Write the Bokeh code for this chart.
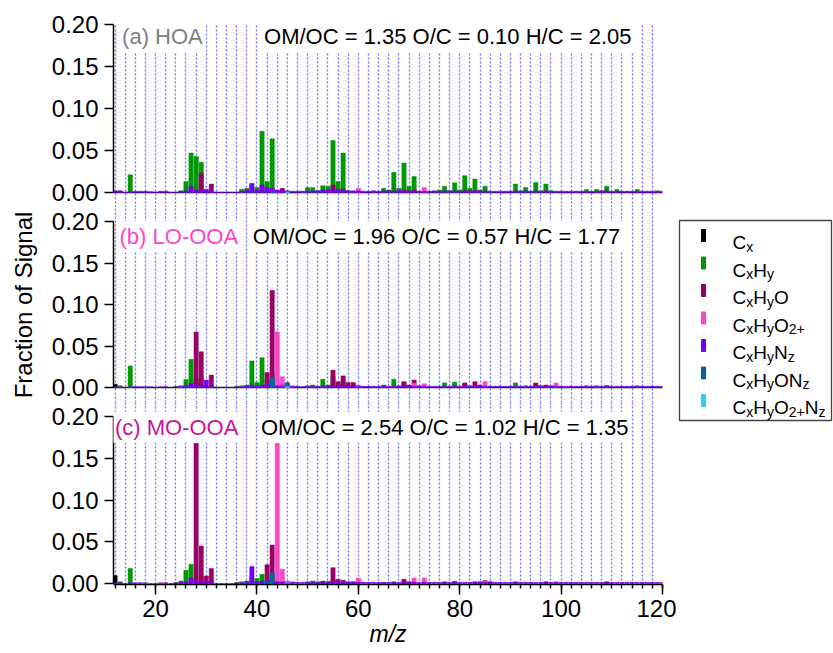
from bokeh.plotting import figure
from bokeh.models import Range1d, FixedTicker, Label, Span, Grid, PrintfTickFormatter
from bokeh.layouts import column, row
from bokeh.embed import file_html
from bokeh.resources import INLINE
from bokeh.core.properties import value

FONT = "Liberation Sans"

FAMILIES = ["Cx", "CxHy", "CxHyO", "CxHyO2+", "CxHyNz", "CxHyONz", "CxHyO2+Nz"]
COLORS = ["#000000", "#009900", "#990066", "#ff44cc", "#7700ee", "#006699", "#33ccff"]

MZ_ALL = list(range(12, 121))
GRID_TICKS = list(range(12, 121, 2))
X_MAJOR = [20, 40, 60, 80, 100, 120]
Y_TICKS = [0.0, 0.05, 0.10, 0.15, 0.20]

# ---------------- (a) HOA ----------------
HOA_Cx_mz = [12]
HOA_Cx = [0.001]
HOA_CxHy_mz = [13, 15, 25, 26, 27, 28, 29, 37, 38, 39, 40, 41, 42, 43, 44, 45,
               49, 50, 51, 52, 53, 54, 55, 56, 57, 58, 59, 63, 65, 66, 67, 68, 69, 70, 71, 72,
               74, 75, 76, 77, 78, 79, 80, 81, 82, 83, 84, 85, 86, 91, 92, 93, 94, 95, 96, 97, 98, 99,
               103, 105, 107, 109, 111, 113, 115, 119]
HOA_CxHy = [0.0015, 0.021, 0.002, 0.013, 0.047, 0.043, 0.036, 0.004, 0.005, 0.011, 0.006, 0.073, 0.013, 0.064, 0.002, 0.001,
            0.001, 0.006, 0.006, 0.002, 0.008, 0.0075, 0.062, 0.013, 0.047, 0.002, 0.001, 0.001, 0.005, 0.003, 0.024, 0.005, 0.035, 0.0075, 0.019, 0.001,
            0.001, 0.001, 0.003, 0.0075, 0.002, 0.0115, 0.003, 0.020, 0.005, 0.016, 0.003, 0.0075, 0.001, 0.010, 0.002, 0.006, 0.001, 0.012, 0.002, 0.010, 0.002, 0.001,
            0.001, 0.0035, 0.0035, 0.0075, 0.0035, 0.001, 0.0035, 0.002]
HOA_CxHyO_mz = [29, 31, 42, 43, 45, 55, 57, 69, 71, 81, 83, 97, 108]
HOA_CxHyO = [0.023, 0.010, 0.002, 0.003, 0.005, 0.009, 0.004, 0.003, 0.003, 0.002, 0.002, 0.002, 0.002]
HOA_CxHyO2_mz = [44, 60, 73]
HOA_CxHyO2 = [0.002, 0.005, 0.006]
HOA_CxHyNz = [0.002, 0.002, 0.000, 0.001, 0.0015, 0.0015, 0.0015, 0.001, 0.000, 0.0015,
              0.0015, 0.000, 0.000, 0.0015, 0.002, 0.007, 0.003, 0.002, 0.004, 0.002,
              0.000, 0.000, 0.000, 0.000, 0.000, 0.0015, 0.003, 0.010, 0.003, 0.009,
              0.006, 0.005, 0.003, 0.002, 0.002, 0.0015, 0.0015, 0.0015, 0.002, 0.002,
              0.002, 0.003, 0.003, 0.004, 0.004, 0.003, 0.002, 0.002, 0.002, 0.0015,
              0.0015, 0.002, 0.0015, 0.002, 0.002, 0.002, 0.0025, 0.002, 0.002, 0.002,
              0.0015, 0.0015, 0.0015, 0.002, 0.0015, 0.002, 0.002, 0.002, 0.0015, 0.002,
              0.002, 0.002, 0.002, 0.002, 0.0015, 0.0015, 0.0015, 0.0015, 0.0015, 0.002,
              0.0015, 0.002, 0.0015, 0.002, 0.0015, 0.002, 0.0015, 0.0015, 0.0015, 0.0015,
              0.0015, 0.0015, 0.0015, 0.0015, 0.0015, 0.0015, 0.0015, 0.002, 0.0015, 0.0015,
              0.0015, 0.0015, 0.0015, 0.0015, 0.0015, 0.0015, 0.0015, 0.0015, 0.0015]
HOA_CxHyONz_mz = [43]
HOA_CxHyONz = [0.001]
HOA_CxHyO2Nz_mz = [46]
HOA_CxHyO2Nz = [0.0005]

# ---------------- (b) LO-OOA ----------------
LO_Cx_mz = [12, 24, 36]
LO_Cx = [0.004, 0.001, 0.001]
LO_CxHy_mz = [13, 15, 25, 26, 27, 28, 29, 37, 38, 39, 40, 41, 42, 43, 50, 51, 53, 54, 55, 56, 57,
              63, 65, 67, 69, 77, 79, 81, 91, 93, 95, 105, 107, 109, 115]
LO_CxHy = [0.002, 0.026, 0.002, 0.0095, 0.034, 0.010, 0.012, 0.002, 0.003, 0.032, 0.006, 0.036, 0.010, 0.020,
           0.002, 0.003, 0.010, 0.003, 0.014, 0.004, 0.008, 0.001, 0.003, 0.010, 0.006, 0.0055, 0.0065, 0.004,
           0.0055, 0.002, 0.003, 0.002, 0.002, 0.002, 0.002]
LO_CxHyO_mz = [28, 29, 31, 42, 43, 45, 55, 56, 57, 58, 59, 69, 70, 71, 72, 81, 82, 83, 84, 95, 96, 97, 98, 109]
LO_CxHyO = [0.067, 0.043, 0.015, 0.018, 0.117, 0.004, 0.021, 0.007, 0.014, 0.006, 0.006, 0.007, 0.003, 0.009,
            0.002, 0.0055, 0.002, 0.007, 0.003, 0.0055, 0.002, 0.003, 0.002, 0.002]
LO_CxHyO2_mz = [44, 45, 46, 47, 60, 71, 73, 85, 99, 101]
LO_CxHyO2 = [0.067, 0.013, 0.004, 0.002, 0.003, 0.005, 0.0045, 0.007, 0.0055, 0.001]
LO_CxHyNz = [0.001, 0.001, 0.000, 0.001, 0.001, 0.001, 0.001, 0.001, 0.000, 0.001,
             0.001, 0.000, 0.000, 0.0015, 0.002, 0.005, 0.003, 0.002, 0.009, 0.002,
             0.000, 0.000, 0.000, 0.000, 0.000, 0.001, 0.002, 0.003, 0.002, 0.003,
             0.004, 0.003, 0.002, 0.002, 0.0015, 0.0015, 0.0015, 0.001, 0.0015, 0.0015,
             0.0015, 0.002, 0.002, 0.002, 0.002, 0.002, 0.0015, 0.0015, 0.0015, 0.0015,
             0.0015, 0.0015, 0.0015, 0.002, 0.0015, 0.0015, 0.002, 0.0015, 0.0015, 0.0015,
             0.0015, 0.0015, 0.0015, 0.0015, 0.0015, 0.0015, 0.0015, 0.002, 0.0015, 0.0015,
             0.0015, 0.0015, 0.0015, 0.0015, 0.0015, 0.0015, 0.0015, 0.0015, 0.0015, 0.0015,
             0.0015, 0.0015, 0.0015, 0.0015, 0.0015, 0.0015, 0.0015, 0.0015, 0.0015, 0.0015,
             0.0015, 0.0015, 0.0015, 0.0015, 0.0015, 0.0015, 0.0015, 0.0015, 0.0015, 0.0015,
             0.0015, 0.0015, 0.0015, 0.0015, 0.0015, 0.0015, 0.0015, 0.0015, 0.0015]
LO_CxHyONz_mz = [43, 46]
LO_CxHyONz = [0.012, 0.006]
LO_CxHyO2Nz_mz = [46]
LO_CxHyO2Nz = [0.001]

# ---------------- (c) MO-OOA ----------------
MO_Cx_mz = [12, 24, 36]
MO_Cx = [0.0095, 0.001, 0.001]
MO_CxHy_mz = [13, 15, 25, 26, 27, 29, 37, 38, 39, 40, 41, 43, 50, 51, 52, 53, 55, 65, 67, 69, 77, 79, 91]
MO_CxHy = [0.002, 0.018, 0.003, 0.016, 0.023, 0.008, 0.002, 0.003, 0.006, 0.006, 0.011, 0.008,
           0.002, 0.003, 0.002, 0.003, 0.004, 0.001, 0.002, 0.002, 0.002, 0.002, 0.002]
MO_CxHyO_mz = [28, 29, 30, 31, 42, 43, 53, 54, 55, 56, 57, 58, 59, 69, 70, 83, 84, 85, 86, 97, 109]
MO_CxHyO = [0.168, 0.045, 0.009, 0.018, 0.0225, 0.046, 0.002, 0.002, 0.019, 0.005, 0.004, 0.002, 0.002,
            0.005, 0.002, 0.002, 0.002, 0.0035, 0.002, 0.002, 0.002]
MO_CxHyO2_mz = [44, 45, 46, 47, 60, 71, 73, 85, 99]
MO_CxHyO2 = [0.168, 0.017, 0.003, 0.002, 0.0065, 0.0065, 0.0065, 0.003, 0.002]
MO_CxHyNz = [0.001, 0.001, 0.000, 0.001, 0.001, 0.001, 0.001, 0.000, 0.000, 0.001,
             0.001, 0.000, 0.000, 0.0015, 0.002, 0.007, 0.002, 0.002, 0.002, 0.002,
             0.000, 0.000, 0.000, 0.000, 0.000, 0.001, 0.002, 0.0205, 0.002, 0.003,
             0.004, 0.003, 0.002, 0.002, 0.0015, 0.0015, 0.0015, 0.0015, 0.0015, 0.0015,
             0.0015, 0.0015, 0.002, 0.002, 0.002, 0.0015, 0.0015, 0.0015, 0.0015, 0.0015,
             0.0015, 0.0015, 0.0015, 0.0015, 0.0015, 0.0015, 0.0015, 0.0015, 0.0015, 0.0015,
             0.0015, 0.0015, 0.0015, 0.0015, 0.0015, 0.0015, 0.0015, 0.0025, 0.0015, 0.0015,
             0.0015, 0.0015, 0.0015, 0.0015, 0.0015, 0.0015, 0.0015, 0.0015, 0.0015, 0.0015,
             0.0015, 0.0015, 0.0015, 0.0015, 0.0015, 0.0015, 0.0015, 0.0015, 0.0015, 0.0015,
             0.0015, 0.0015, 0.0015, 0.0015, 0.0015, 0.0015, 0.0015, 0.0015, 0.0015, 0.0015,
             0.0015, 0.0015, 0.0015, 0.0015, 0.0015, 0.0015, 0.0015, 0.0015, 0.0015]
MO_CxHyONz_mz = [42, 43]
MO_CxHyONz = [0.002, 0.013]
MO_CxHyO2Nz_mz = [46]
MO_CxHyO2Nz = [0.001]

PANEL_TAGS = ["(a) HOA", "(b) LO-OOA", "(c) MO-OOA"]
TAG_COLORS = ["#808080", "#ff44cc", "#cc1199"]
RATIO_TEXTS = ["OM/OC = 1.35 O/C = 0.10 H/C = 2.05",
               "OM/OC = 1.96 O/C = 0.57 H/C = 1.77",
               "OM/OC = 2.54 O/C = 1.02 H/C = 1.35"]
X_LABEL = "m/z"
Y_LABEL = "Fraction of Signal"

LEGEND_PARTS = [
    [("C", 0), ("x", 1)],
    [("C", 0), ("x", 1), ("H", 0), ("y", 1)],
    [("C", 0), ("x", 1), ("H", 0), ("y", 1), ("O", 0)],
    [("C", 0), ("x", 1), ("H", 0), ("y", 1), ("O", 0), ("2+", 1)],
    [("C", 0), ("x", 1), ("H", 0), ("y", 1), ("N", 0), ("z", 1)],
    [("C", 0), ("x", 1), ("H", 0), ("y", 1), ("O", 0), ("N", 0), ("z", 1)],
    [("C", 0), ("x", 1), ("H", 0), ("y", 1), ("O", 0), ("2+", 1), ("N", 0), ("z", 1)],
]

assert len(HOA_CxHyNz) == len(MZ_ALL) == len(LO_CxHyNz) == len(MO_CxHyNz)


def panel_series(cx, cxhy, cxhyo, cxhyo2, nz, onz, o2nz):
    return [cx, cxhy, cxhyo, cxhyo2, (MZ_ALL, nz), onz, o2nz]


PANELS = [
    panel_series((HOA_Cx_mz, HOA_Cx), (HOA_CxHy_mz, HOA_CxHy), (HOA_CxHyO_mz, HOA_CxHyO),
                 (HOA_CxHyO2_mz, HOA_CxHyO2), HOA_CxHyNz, (HOA_CxHyONz_mz, HOA_CxHyONz),
                 (HOA_CxHyO2Nz_mz, HOA_CxHyO2Nz)),
    panel_series((LO_Cx_mz, LO_Cx), (LO_CxHy_mz, LO_CxHy), (LO_CxHyO_mz, LO_CxHyO),
                 (LO_CxHyO2_mz, LO_CxHyO2), LO_CxHyNz, (LO_CxHyONz_mz, LO_CxHyONz),
                 (LO_CxHyO2Nz_mz, LO_CxHyO2Nz)),
    panel_series((MO_Cx_mz, MO_Cx), (MO_CxHy_mz, MO_CxHy), (MO_CxHyO_mz, MO_CxHyO),
                 (MO_CxHyO2_mz, MO_CxHyO2), MO_CxHyNz, (MO_CxHyONz_mz, MO_CxHyONz),
                 (MO_CxHyO2Nz_mz, MO_CxHyO2Nz)),
]

# layout parameters (pixels / range ends)
X_START, X_END = 11.7, 120
Y_RANGES = [(-0.017857, 0.2012), (-0.01807, 0.21687), (-0.0012, 0.21677)]
HEIGHTS = [207, 195, 251]
TOPS = [23, 0, 0]
BOTTOMS = [0, 0, 69]
TAG_POS = [(12.8, 0.1857), (12.3, 0.182), (11.4, 0.187)]
RATIO_POS = [(40.8, 0.1857), (38.6, 0.182), (40.2, 0.187)]

panels = []
for i in range(3):
    last = (i == 2)
    p = figure(width=676, height=HEIGHTS[i], x_range=Range1d(X_START, X_END),
               y_range=Range1d(*Y_RANGES[i]), toolbar_location=None, output_backend="svg",
               x_axis_location="below" if last else None,
               min_border_left=113, min_border_right=14,
               min_border_top=TOPS[i], min_border_bottom=BOTTOMS[i],
               outline_line_color=None, background_fill_color="white",
               border_fill_color="white")
    for g in p.grid:
        g.visible = False
    grid = Grid(dimension=0, ticker=FixedTicker(ticks=GRID_TICKS),
                grid_line_color="#6f6fff", grid_line_alpha=1.0,
                grid_line_dash="2 2", grid_line_width=1.3)
    p.add_layout(grid, "center")

    if not last:
        p.add_layout(Span(location=0, dimension="width", line_color="black",
                          line_width=1.5, level="underlay"))

    for fam_i, (mz, vals) in enumerate(PANELS[i]):
        p.vbar(x=mz, top=vals, bottom=0, width=0.85, fill_color=COLORS[fam_i],
               line_color=COLORS[fam_i], line_width=0.5)

    ya = p.yaxis[0]
    ya.ticker = FixedTicker(ticks=Y_TICKS)
    ya.bounds = (0, 0.2)
    ya.formatter = PrintfTickFormatter(format="%.2f")
    ya.major_label_text_font = FONT
    ya.major_label_text_font_size = "24px"
    ya.major_label_text_color = "black"
    ya.major_tick_out = 9
    ya.major_tick_in = 0
    ya.minor_tick_out = 0
    ya.minor_tick_in = 0
    ya.major_label_standoff = 6
    ya.axis_line_width = 1.5
    ya.major_tick_line_width = 1.5
    if i == 1:
        ya.axis_label = Y_LABEL
        ya.axis_label_text_font = FONT
        ya.axis_label_text_font_size = "24px"
        ya.axis_label_text_font_style = "normal"
        ya.axis_label_text_color = "black"
        ya.axis_label_standoff = 12

    if last:
        xa = p.xaxis[0]
        xa.ticker = FixedTicker(ticks=X_MAJOR, minor_ticks=GRID_TICKS)
        xa.major_label_text_font = FONT
        xa.major_label_text_font_size = "24px"
        xa.major_label_text_color = "black"
        xa.major_tick_out = 10
        xa.major_tick_in = 0
        xa.minor_tick_out = 4
        xa.minor_tick_in = 0
        xa.major_label_standoff = 5
        xa.axis_line_width = 1.5
        xa.major_tick_line_width = 1.5
        xa.minor_tick_line_width = 1.5
        xa.axis_label = X_LABEL
        xa.axis_label_text_font = FONT
        xa.axis_label_text_font_size = "23px"
        xa.axis_label_text_font_style = "italic"
        xa.axis_label_text_color = "black"
        xa.axis_label_standoff = 1

    tx, ty = TAG_POS[i]
    p.add_layout(Label(x=tx, y=ty, text=PANEL_TAGS[i], text_font=FONT, text_font_size="22px",
                       text_color=TAG_COLORS[i], text_baseline="middle", text_align="left",
                       background_fill_color="white", padding=3))
    rx, ry = RATIO_POS[i]
    p.add_layout(Label(x=rx, y=ry, text=RATIO_TEXTS[i], text_font=FONT, text_font_size="22px",
                       text_color="black", text_baseline="middle", text_align="left",
                       background_fill_color="white", padding=3))
    panels.append(p)

# ---------------- legend (separate figure, pixel-like coordinates) ----------------
leg = figure(width=157, height=653, x_range=Range1d(0, 157), y_range=Range1d(653, 0),
             toolbar_location=None, output_backend="svg", min_border=0,
             x_axis_location=None, y_axis_location=None, outline_line_color=None,
             background_fill_color="white", border_fill_color="white")
for g in leg.grid:
    g.visible = False

leg.quad(left=[3], right=[155], top=[220], bottom=[420], fill_color=None,
         line_color="#444444", line_width=1.3)

W = {"C": .722, "H": .722, "O": .778, "N": .722, "x": .5, "y": .5, "z": .5, "2": .556, "+": .584}
MAIN_SIZE, SUB_SIZE = 19, 14
row_y = [235 + k * 27.5 for k in range(len(FAMILIES))]
leg.quad(left=[25] * len(FAMILIES), right=[29] * len(FAMILIES),
         top=[y - 6 for y in row_y], bottom=[y + 6 for y in row_y],
         fill_color=COLORS, line_color=COLORS)

main_x, main_y, main_t, sub_x, sub_y, sub_t = [], [], [], [], [], []
for k, parts in enumerate(LEGEND_PARTS):
    xpos = 56.0
    for txt, is_sub in parts:
        size = SUB_SIZE if is_sub else MAIN_SIZE
        if is_sub:
            sub_x.append(xpos); sub_y.append(row_y[k] + 11); sub_t.append(txt)
        else:
            main_x.append(xpos); main_y.append(row_y[k] + 7); main_t.append(txt)
        xpos += sum(W[c] for c in txt) * size
leg.text(x=main_x, y=main_y, text=main_t, text_font=value(FONT), text_font_size=f"{MAIN_SIZE}px",
         text_baseline="alphabetic", text_align="left", text_color="black")
leg.text(x=sub_x, y=sub_y, text=sub_t, text_font=value(FONT), text_font_size=f"{SUB_SIZE}px",
         text_baseline="alphabetic", text_align="left", text_color="black")

layout = row(column(*panels, spacing=0), leg, spacing=0)

with open("out.html", "w") as f:
    f.write(file_html(layout, INLINE))
